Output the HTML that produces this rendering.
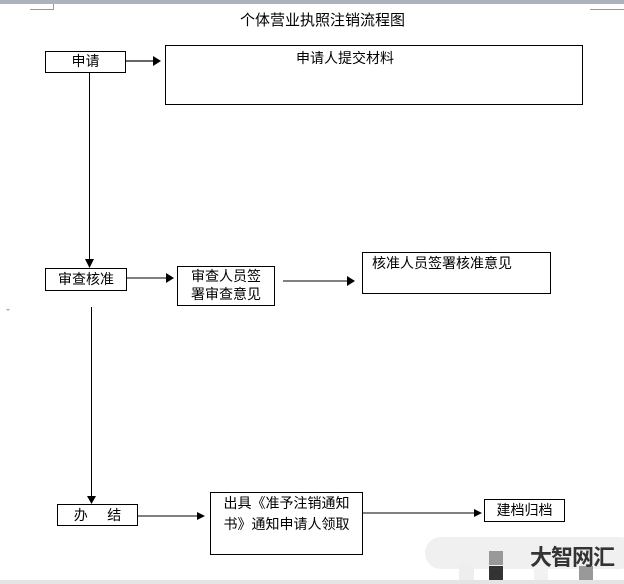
<!DOCTYPE html>
<html><head><meta charset="utf-8"><style>
html,body{margin:0;padding:0;background:#fff;}
body{width:624px;height:584px;position:relative;overflow:hidden;font-family:"Liberation Sans","Noto Sans CJK SC",sans-serif;}
.b{position:absolute;border:1px solid #000;box-sizing:border-box;font-size:14px;color:#000;text-align:center;line-height:19px;}
.t{position:absolute;font-size:14px;color:#000;white-space:nowrap;}
svg{position:absolute;left:0;top:0;}
</style></head><body>
<div style="position:absolute;left:0;top:0;width:624px;height:4px;background:#aeb2ba"></div>
<div style="position:absolute;left:0;top:580px;width:624px;height:4px;background:#e4e4e4"></div>
<div class="t" style="left:240px;top:9px;font-size:15px;">个体营业执照注销流程图</div>

<div class="b" style="left:45px;top:51px;width:81px;height:22px;">申请</div>
<div class="b" style="left:165px;top:45px;width:418px;height:60px;"></div>
<div class="t" style="left:296px;top:48px;">申请人提交材料</div>

<div class="b" style="left:45px;top:268px;width:82px;height:23px;line-height:21px;">审查核准</div>
<div class="b" style="left:177px;top:266px;width:98px;height:40px;line-height:18px;padding-top:0px;">审查人员签<br>署审查意见</div>
<div class="b" style="left:362px;top:252px;width:189px;height:42px;"></div>
<div class="t" style="left:372px;top:253px;">核准人员签署核准意见</div>

<div class="b" style="left:57px;top:504px;width:81px;height:22px;line-height:20px;">办&nbsp;&nbsp;&nbsp;&nbsp;&nbsp;结</div>
<div class="b" style="left:210px;top:492px;width:153px;height:63px;line-height:21px;padding-top:0px;">出具《准予注销通知<br>书》通知申请人领取</div>
<div class="b" style="left:484px;top:499px;width:81px;height:23px;line-height:21px;">建档归档</div>

<svg width="624" height="584">
<g stroke="#000" stroke-width="1" fill="none">
<path d="M30 9.5H53.5V4" stroke="#999"/>
<path d="M590 9.5H624" stroke="#999"/>
<line x1="126" y1="61" x2="153" y2="61" stroke="#666" stroke-width="2"/>
<line x1="89.5" y1="73" x2="89.5" y2="260"/>
<line x1="127" y1="278" x2="167" y2="278" stroke="#555" stroke-width="1.5"/>
<line x1="283" y1="281" x2="348" y2="281"/>
<line x1="91.5" y1="307" x2="91.5" y2="496"/>
<line x1="138" y1="516" x2="198" y2="516"/>
<line x1="363" y1="513" x2="474" y2="513"/>
</g>
<g fill="#000">
<path d="M153 56L161 61L153 66Z"/>
<path d="M85 259L94 259L89.5 268Z"/>
<path d="M166 273L174 278L166 283Z"/>
<path d="M347 276L355 281L347 286Z"/>
<path d="M87 496L96 496L91.5 504Z"/>
<path d="M197 512L205 516L197 520Z"/>
<path d="M474 509L482 513L474 517Z"/>
<path d="M6 309L10 309L8 311Z" fill="#aaa"/>
</g>
<rect x="425" y="537" width="210" height="32" rx="16" fill="#f0f0f0"/>
<rect x="459" y="565" width="15" height="15" fill="#eee"/>
<rect x="489" y="551" width="14" height="14" fill="#999"/>
<rect x="489" y="566" width="14" height="14" fill="#333"/>
<rect x="534" y="566" width="14" height="14" fill="#f2f2f2"/>
<rect x="579" y="566" width="14" height="14" fill="#999"/>
</svg>
<div class="t" style="left:530px;top:540px;font-size:22px;font-weight:bold;color:#333;letter-spacing:-1px;">大智网汇</div>
</body></html>
